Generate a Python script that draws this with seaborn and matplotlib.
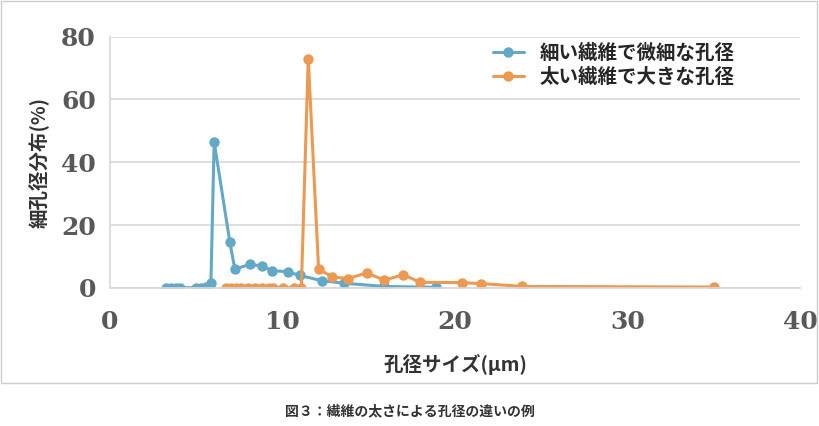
import matplotlib
matplotlib.use("Agg")
import matplotlib.pyplot as plt
import seaborn as sns

blue_x = [3.25,3.57,3.86,4.06,5.02,5.3,5.6,5.86,6.05,6.96,7.25,8.1,8.8,9.4,10.3,11.0,12.3,13.6,15.9,18.9]
blue_y = [0.1,0.1,0.1,0.1,0.1,0.1,0.2,1.5,46.5,14.5,6.0,7.5,7.0,5.5,5.2,4.0,2.3,1.5,0.5,0.2]
orange_x = [6.76,7.05,7.34,7.63,8.0,8.4,8.8,9.2,9.46,10.04,10.7,11.1,11.5,12.1,12.9,13.8,14.9,15.9,17.0,18.0,20.4,21.5,23.9,35.0]
orange_y = [0.1,0.1,0.1,0.1,0.1,0.1,0.1,0.1,0.1,0.1,0.1,0.1,73.0,6.0,3.5,3.0,4.8,2.5,4.2,1.8,1.7,1.4,0.5,0.3]
labels = ["細い繊維で微細な孔径", "太い繊維で大きな孔径"]

sns.set_theme(style="white")
plt.rcParams['font.family'] = ['Noto Sans CJK JP', 'DejaVu Sans']

fig = plt.figure(figsize=(8.19, 4.26), dpi=100)
ax = fig.add_axes([0.134, 0.324, 0.843, 0.59])
blue, orange = "#63a9c6", "#ec9a52"
sns.lineplot(x=blue_x, y=blue_y, ax=ax, color=blue, marker="o", markersize=7.5, markeredgewidth=0, linewidth=2.2, label=labels[0])
sns.lineplot(x=orange_x, y=orange_y, ax=ax, color=orange, marker="o", markersize=7.5, markeredgewidth=0, linewidth=2.2, label=labels[1])
ax.set_xlim(0, 40)
ax.set_ylim(0, 80)
ax.set_xticks(range(0, 41, 10))
ax.set_yticks(range(0, 81, 20))
ax.yaxis.grid(True, color="#d9d9d9", linewidth=1.2)
for s in ["top", "right"]:
    ax.spines[s].set_visible(False)
ax.spines["left"].set_color("#d9d9d9")
ax.spines["bottom"].set_color("#d9d9d9")
ax.tick_params(axis="both", labelsize=18, colors="#595959", length=0)
ax.tick_params(axis="x", pad=16)
ax.tick_params(axis="y", pad=10)
for t in ax.get_xticklabels() + ax.get_yticklabels():
    t.set_fontfamily("DejaVu Serif")
    t.set_fontweight("bold")
ax.set_xlabel("孔径サイズ(μm)", fontsize=14, color="#333333", labelpad=14, fontweight="bold")
ax.set_ylabel("細孔径分布(%)", fontsize=14, color="#333333", fontweight="bold", labelpad=8)
ax.legend(loc="upper right", bbox_to_anchor=(0.93, 1.04), frameon=False, fontsize=14, handlelength=1.6,
          labelspacing=0.2, prop={"size": 14, "weight": "bold"})
fig.patches.append(plt.Rectangle((0.001, 0.1), 0.997, 0.898, transform=fig.transFigure, fill=False, edgecolor="#cccccc", linewidth=1))
fig.text(0.5, 0.025, "図３：繊維の太さによる孔径の違いの例", ha="center", fontsize=10, color="#333333", fontweight="bold")
fig.savefig("out.png")
